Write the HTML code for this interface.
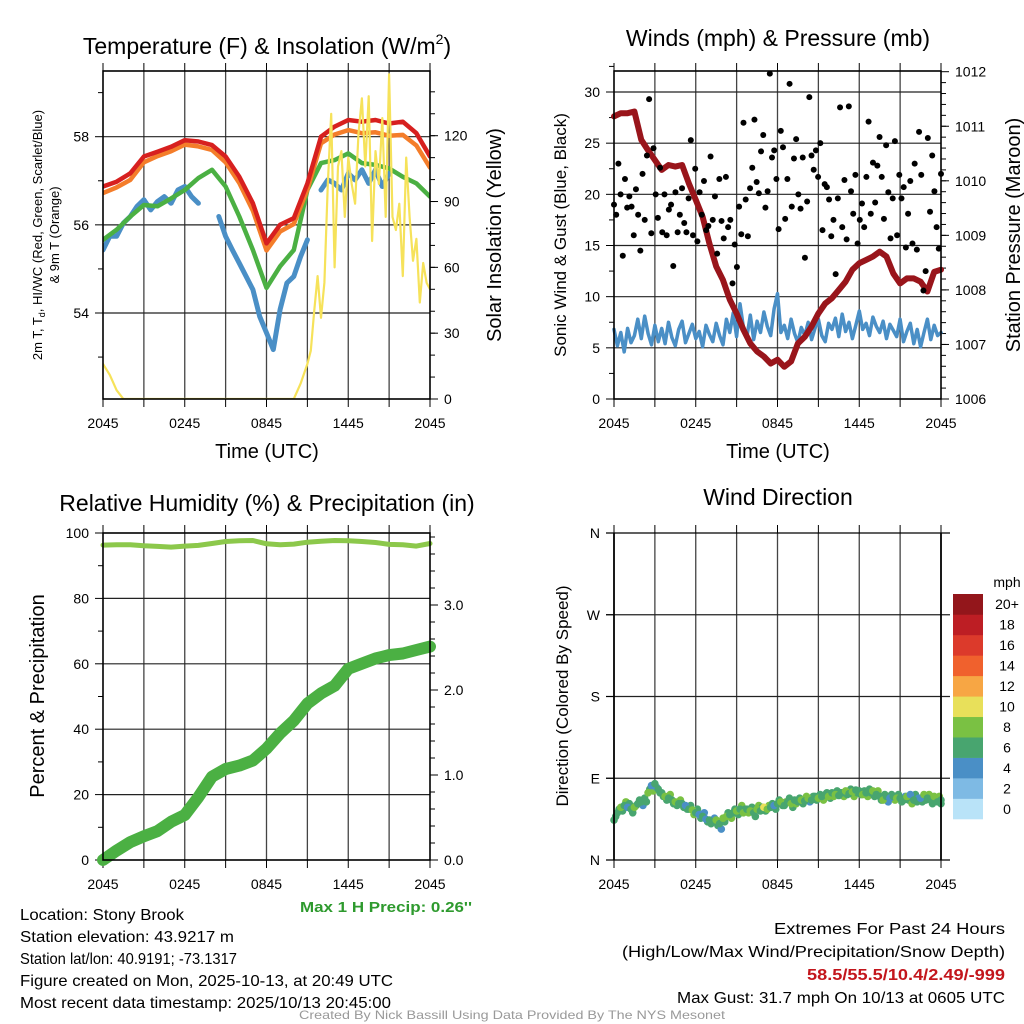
<!DOCTYPE html>
<html><head><meta charset="utf-8"><style>
html,body{margin:0;padding:0;background:#fff;}
svg{display:block;font-family:"Liberation Sans",sans-serif;}
</style></head><body>
<svg id="fig" xmlns="http://www.w3.org/2000/svg" width="1024" height="1024" viewBox="0 0 1024 1024">
<rect width="1024" height="1024" fill="#fff"/>
<g id="p1"></g>
<g id="p2"></g>
<g id="p3"></g>
<g id="p4"></g>

<text x="267" y="54" font-size="23" text-anchor="middle">Temperature (F) &amp; Insolation (W/m<tspan font-size="14" dy="-10">2</tspan><tspan dy="10">)</tspan></text>
<text x="778" y="46" font-size="23" text-anchor="middle">Winds (mph) &amp; Pressure (mb)</text>
<text x="267" y="511" font-size="23" text-anchor="middle">Relative Humidity (%) &amp; Precipitation (in)</text>
<text x="778" y="505" font-size="23" text-anchor="middle">Wind Direction</text>

<text x="267" y="458" font-size="20" text-anchor="middle">Time (UTC)</text>
<text x="778" y="458" font-size="20" text-anchor="middle">Time (UTC)</text>

<text transform="translate(42,235) rotate(-90)" font-size="13" text-anchor="middle">2m T, T<tspan font-size="9" dy="3">d</tspan><tspan dy="-3">, HI/WC (Red, Green, Scarlet/Blue)</tspan></text>
<text transform="translate(59,235) rotate(-90)" font-size="13" text-anchor="middle">&amp; 9m T (Orange)</text>
<text transform="translate(501,235) rotate(-90)" font-size="20" text-anchor="middle">Solar Insolation (Yellow)</text>
<text transform="translate(566,235) rotate(-90)" font-size="17" text-anchor="middle">Sonic Wind &amp; Gust (Blue, Black)</text>
<text transform="translate(1020,235) rotate(-90)" font-size="20" text-anchor="middle">Station Pressure (Maroon)</text>
<text transform="translate(44,696) rotate(-90)" font-size="20" text-anchor="middle">Percent &amp; Precipitation</text>
<text transform="translate(568,696) rotate(-90)" font-size="17" text-anchor="middle">Direction (Colored By Speed)</text>

<text x="472" y="912" font-size="15" font-weight="bold" fill="#2e9a2e" text-anchor="end" textLength="172" lengthAdjust="spacingAndGlyphs">Max 1 H Precip: 0.26''</text>

<g font-size="16">
<text x="20" y="920" textLength="164" lengthAdjust="spacingAndGlyphs">Location: Stony Brook</text>
<text x="20" y="942" textLength="214" lengthAdjust="spacingAndGlyphs">Station elevation: 43.9217 m</text>
<text x="20" y="964" textLength="217" lengthAdjust="spacingAndGlyphs">Station lat/lon: 40.9191; -73.1317</text>
<text x="20" y="986" textLength="373" lengthAdjust="spacingAndGlyphs">Figure created on Mon, 2025-10-13, at 20:49 UTC</text>
<text x="20" y="1008" textLength="371" lengthAdjust="spacingAndGlyphs">Most recent data timestamp: 2025/10/13 20:45:00</text>
</g>
<g font-size="16" text-anchor="end">
<text x="1005" y="934" textLength="231" lengthAdjust="spacingAndGlyphs">Extremes For Past 24 Hours</text>
<text x="1005" y="957" textLength="383" lengthAdjust="spacingAndGlyphs">(High/Low/Max Wind/Precipitation/Snow Depth)</text>
<text x="1005" y="980" textLength="198" lengthAdjust="spacingAndGlyphs" fill="#c3161c" font-weight="bold">58.5/55.5/10.4/2.49/-999</text>
<text x="1005" y="1003" textLength="328" lengthAdjust="spacingAndGlyphs">Max Gust: 31.7 mph On 10/13 at 0605 UTC</text>
</g>
<text x="512" y="1019" font-size="12" fill="#999" text-anchor="middle" textLength="426" lengthAdjust="spacingAndGlyphs">Created By Nick Bassill Using Data Provided By The NYS Mesonet</text>
</svg>
<script>
// ---------- data ----------
const xTickLabels = ["2045","0245","0845","1445","2045"];
const hourly = [0,1,2,3,4,5,6,7,8,9,10,11,12,13,14,15,16,17,18,19,20,21,22,23,24];
const tempRed = [56.87,56.98,57.17,57.55,57.66,57.77,57.92,57.89,57.81,57.55,57.09,56.49,55.58,56.0,56.15,56.94,58.0,58.23,58.38,58.34,58.38,58.3,58.34,58.08,57.55];
const tempOrange = [56.72,56.85,57.02,57.42,57.56,57.67,57.82,57.78,57.7,57.42,56.95,56.32,55.42,55.85,56.02,56.8,57.85,58.05,58.15,58.08,58.1,58.02,58.04,57.8,57.3];
const tempGreen = [55.66,55.89,56.19,56.45,56.42,56.6,56.79,57.06,57.25,56.87,56.19,55.43,54.57,55.06,55.43,56.79,57.4,57.47,57.62,57.4,57.36,57.28,57.09,56.94,56.64];
const halfHourly = [0,0.5,1,1.5,2,2.5,3,3.5,4,4.5,5,5.5,6,6.5,7,7.5,8,8.5,9,9.5,10,10.5,11,11.5,12,12.5,13,13.5,14,14.5,15,15.5,16,16.5,17,17.5,18,18.5,19,19.5,20,20.5,21,21.5,22,22.5,23,23.5,24];
const tempBlue = [55.43,55.74,55.74,56.04,56.19,56.42,56.57,56.34,56.53,56.64,56.49,56.79,56.87,56.64,56.49,null,null,56.19,55.74,55.43,55.13,54.83,54.53,53.92,53.55,53.17,54.08,54.68,54.83,55.28,55.66,null,56.79,57.02,56.94,56.79,57.17,57.02,57.25,56.94,57.25,56.87,57.17,null,null,null,null,null,56.26];
const solarTimes = [0,0.5,1,1.5,2,4,8,12,14,14.5,15,15.25,15.5,15.75,16,16.25,16.5,16.75,17,17.25,17.5,17.75,18,18.25,18.5,18.75,19,19.25,19.5,19.75,20,20.25,20.5,20.75,21,21.25,21.5,21.75,22,22.25,22.5,22.75,23,23.25,23.5,23.75,24];
const solarValues = [16,11,4,0,0,0,0,0,0,7,16,22,40,56,37,53,98,130,60,106,113,83,110,98,89,121,137,106,138,72,113,98,128,83,148,83,77,89,56,110,83,63,73,44,62,53,50];
const pressure = [1011.18,1011.24,1011.24,1011.27,1010.75,1010.56,1010.38,1010.2,1010.29,1010.26,1010.29,1009.95,1009.65,1009.34,1008.85,1008.43,1008.18,1007.82,1007.57,1007.27,1007.02,1006.87,1006.78,1006.65,1006.72,1006.59,1006.69,1007.02,1007.14,1007.33,1007.57,1007.75,1007.85,1008.0,1008.15,1008.37,1008.49,1008.55,1008.61,1008.7,1008.61,1008.3,1008.12,1008.21,1008.21,1008.15,1007.97,1008.33,1008.37];
const sonicWind = [6.8,5.2,6.5,4.6,6.9,5.5,6.2,7.8,5.9,8.1,6.4,5.3,
7.2,5.6,6.9,5.4,7.5,6.0,5.2,6.8,7.6,5.5,6.4,7.3,
5.9,6.6,5.1,7.2,6.3,5.6,7.4,6.2,5.3,7.8,6.5,8.4,
6.1,9.3,7.0,6.0,8.2,5.8,7.6,6.5,8.5,7.1,6.2,8.8,
10.3,6.5,7.2,5.9,7.8,6.4,5.5,7.0,6.2,7.5,5.8,6.9,
7.8,6.2,5.6,7.4,6.8,7.9,6.1,8.3,6.6,7.5,5.9,7.2,
8.6,6.8,7.4,6.2,8.0,7.1,6.5,7.6,5.9,7.3,6.7,6.1,
7.8,5.6,6.6,7.4,5.4,6.8,5.1,6.5,7.8,5.8,7.2,6.2,6.5];
const gusts = [19,18,23,20,14,21.5,18.7,19.8,18.8,16,20.5,18,
14.5,22,17.5,23.8,29.3,16.2,24.5,20,17.7,22.6,16.3,20,
16,18.5,19,13,20.2,16.3,18,20.6,17.2,16.3,19.6,25.3,
16,22.5,15.4,20.2,18,21.3,16.5,16.9,23.7,17.5,19.8,14.2,
21.5,17.4,15.7,21.7,16.8,17.5,11.3,15.1,12.9,18.8,16.1,27,
19.5,15.9,20.6,22.6,27.3,21.2,20.1,24.2,25.8,18.7,20.3,31.8,
23.6,24.3,21.5,16.6,26.2,24.6,17.6,21.5,30.8,18.8,23.5,25.4,
20,18.6,23.6,13.8,19.3,29.5,23.8,22.4,24.3,21.7,25,16.5,
21,20.7,19.5,15.9,17.5,12.2,19.6,28.5,16.8,21.4,15.6,28.6,
20.3,18.1,21.9,15.2,17.5,19.1,16.8,21.7,27.1,18.1,23.1,19.2,
22.8,25.6,21.7,17.6,24.8,20.2,15.7,19.6,25.2,16,21.9,19.6,
20.7,14.8,18.1,21.3,15.2,23,14.6,26.1,21.9,10.6,12.5,25.5,
18.3,23.8,20.3,16.8,14.7,22];
const humidity = [96.3,96.4,96.4,96.1,95.9,95.7,96.0,96.2,96.8,97.4,97.6,97.7,96.7,96.4,96.6,97.2,97.5,97.7,97.6,97.4,97.1,96.5,96.4,96.0,96.8];
const precip = [0,0.11,0.21,0.28,0.34,0.45,0.53,0.74,0.98,1.07,1.11,1.17,1.31,1.49,1.64,1.84,1.96,2.05,2.25,2.31,2.37,2.41,2.43,2.47,2.51];
const windDir = [44,52,58,60,58,56,58,62,64,68,74,82,
84,78,74,70,68,66,64,62,62,60,56,55,
52,50,48,45,44,42,44,40,46,48,50,52,
54,56,52,56,54,52,56,54,58,56,58,60,
62,64,60,64,62,66,64,66,65,68,66,70,
68,70,72,70,74,72,71,74,76,73,75,77,
76,72,74,78,76,72,70,66,70,68,70,68,
68,66,70,72,66,64,68,72,68,66,70,64,66];
const dirSpeed = [7.1,6.5,8.2,6.8,5.4,7.3,8.5,6.9,7.2,6.4,8.8,5.6,
7.0,6.2,7.5,8.3,6.6,7.1,8.4,6.7,6.9,5.5,7.4,8.1,
6.3,5.2,7.0,5.8,6.5,7.7,8.6,6.4,8.9,8.2,6.6,7.4,
8.5,6.8,8.7,6.3,8.4,7.9,8.8,6.5,11.2,8.6,7.2,5.1,
6.8,8.3,7.1,6.6,8.7,7.5,6.4,8.1,7.0,8.9,6.2,7.6,
8.4,6.9,7.3,8.8,6.5,8.2,7.4,6.8,8.6,7.1,8.3,6.7,
7.2,8.5,6.4,7.7,8.9,7.0,6.6,8.2,7.5,5.6,6.9,8.4,
7.1,6.3,8.6,5.5,7.2,6.8,5.4,8.1,6.6,7.3,8.5,6.4,7.0];
const windDir2 = [48,56,54,64,62,52,60,66,60,64,78,76,
80,74,70,66,72,62,60,66,58,56,60,50,
56,46,52,42,40,46,38,34,42,52,46,56,
50,60,56,52,58,48,60,58,54,60,62,56,
66,60,64,68,58,62,68,62,70,64,70,66,
72,66,74,68,70,76,74,70,72,78,70,74,
72,76,70,74,70,76,66,72,64,72,66,72,
64,70,66,62,72,68,64,66,72,62,68,70,62];
const dirSpeed2 = [6.6,7.4,6.2,8.1,7.0,6.5,7.8,6.3,5.7,7.2,6.8,8.4,
5.3,7.6,6.9,7.1,8.2,6.4,7.3,8.5,6.7,7.9,6.1,8.3,
7.2,6.6,5.4,7.5,6.8,5.6,7.1,4.8,6.5,7.7,8.1,6.9,
7.4,8.6,6.2,8.3,7.0,6.6,8.5,7.3,6.7,8.8,6.4,7.6,
6.9,7.5,8.4,6.3,7.2,8.6,6.8,7.4,8.2,5.8,7.1,6.5,
7.7,8.3,6.6,7.2,8.5,6.4,7.8,8.1,6.9,7.3,8.6,7.0,
6.8,7.6,8.2,6.5,7.3,8.4,6.7,7.9,5.5,7.2,8.1,6.6,
7.4,5.6,6.9,8.3,7.1,5.3,6.7,7.8,8.2,6.5,7.0,8.4,6.9];
const speedBins = ["0","2","4","6","8","10","12","14","16","18","20+"];
const speedColors = ["#b9e3f8","#7ebae4","#4a8fc6","#48a56f","#7ac143","#e8e05a","#f7a644","#f0612d","#dc3a2b","#bd1e24","#93161b"];
const dirLabels = ["N","E","S","W","N"];

// ---------- helpers ----------
const NS="http://www.w3.org/2000/svg";
function mk(parent,tag,attrs){const e=document.createElementNS(NS,tag);for(const k in attrs)e.setAttribute(k,attrs[k]);parent.appendChild(e);return e;}
function lin(d0,d1,r0,r1){return v=>r0+(v-d0)/(d1-d0)*(r1-r0);}
function fmt(v,d){return v.toFixed(d);}

function frame(g,P,yL,yR,opts){
  const X=lin(0,24,P.x0,P.x1);
  for(let h=0;h<=24;h+=3){
    const x=X(h);
    if(h>0&&h<24){const gl=mk(g,'line',{x1:x,y1:P.y0,x2:x,y2:P.y1,stroke:'#444','stroke-width':1.3});
      }
    mk(g,'line',{x1:x,y1:P.y1,x2:x,y2:P.y1+8,stroke:'#000','stroke-width':1});
    mk(g,'line',{x1:x,y1:P.y0,x2:x,y2:P.y0-8,stroke:'#000','stroke-width':1});
  }
  xTickLabels.forEach((l,i)=>{const t=mk(g,'text',{x:X(i*6),y:P.y1+29,'font-size':14,'text-anchor':'middle'});t.textContent=l;
    });
  (opts.grid||[]).forEach(v=>{const y=yL.s(v);const gl=mk(g,'line',{x1:opts.gx0||P.x0,y1:y,x2:opts.gx1||P.x1,y2:y,stroke:'#222','stroke-width':1.2});
    });
  yL.major.forEach(v=>{const y=yL.s(v);mk(g,'line',{x1:P.x0-8,y1:y,x2:P.x0,y2:y,stroke:'#000'});
    const t=mk(g,'text',{x:P.x0-14,y:y+5,'font-size':14,'text-anchor':'end'});t.textContent=yL.lab?yL.lab(v):fmt(v,yL.d||0);
    });
  (yL.minor||[]).forEach(v=>{const y=yL.s(v);mk(g,'line',{x1:P.x0-5,y1:y,x2:P.x0,y2:y,stroke:'#000'});});
  if(yR){
    yR.major.forEach(v=>{const y=yR.s(v);mk(g,'line',{x1:P.x1,y1:y,x2:P.x1+8,y2:y,stroke:'#000'});
      const t=mk(g,'text',{x:P.x1+14,y:y+5,'font-size':14});t.textContent=fmt(v,yR.d||0);
      });
    (yR.minor||[]).forEach(v=>{const y=yR.s(v);mk(g,'line',{x1:P.x1,y1:y,x2:P.x1+5,y2:y,stroke:'#000'});});
  }
  return X;
}
function box(g,P){const r=mk(g,'rect',{x:P.x0,y:P.y0,width:P.x1-P.x0,height:P.y1-P.y0,fill:'none',stroke:'#000','stroke-width':1.6});
  }
function line(g,xs,ys,X,Y,color,w,name){
  let d='',pen=false;
  xs.forEach((t,i)=>{const v=ys[i];if(v===null||v===undefined){pen=false;return;}
    d+=(pen?'L':'M')+X(t).toFixed(1)+' '+Y(v).toFixed(1);pen=true;});
  const p=mk(g,'path',{d:d,fill:'none',stroke:color,'stroke-width':w,'stroke-linejoin':'round','stroke-linecap':'round'});
  
}
function range(a,b,s){const r=[];for(let v=a;v<=b+1e-9;v+=s)r.push(+v.toFixed(4));return r;}

// ---------- panel 1 ----------
(function(){
  const g=document.getElementById('p1');
  const P={x0:103,x1:430,y0:71,y1:399};
  const yT=lin(54,58,313,136.7), yS=lin(0,120,399,135.7);
  const X=frame(g,P,{s:yT,major:[54,56,58],minor:[53,55,57,59]},{s:yS,major:[0,30,60,90,120],minor:range(10,140,10)},{grid:[54,56,58]});
  const clip=mk(g,'clipPath',{id:'c1'});mk(clip,'rect',{x:P.x0,y:P.y0,width:P.x1-P.x0,height:P.y1-P.y0});
  const inner=mk(g,'g',{'clip-path':'url(#c1)'});
  line(inner,halfHourly,tempBlue,X,yT,'#4a8fc6',5,'heat-index-line');
  line(inner,hourly,tempGreen,X,yT,'#4bb043',4.5,'dewpoint-line');
  line(inner,hourly,tempOrange,X,yT,'#f47d2a',4.5,'temp-9m-line');
  line(inner,hourly,tempRed,X,yT,'#d7201f',4.5,'temp-2m-line');
  line(inner,solarTimes,solarValues,X,yS,'#f6e25a',2.2,'insolation-line');
  box(g,P);
})();

// ---------- panel 2 ----------
(function(){
  const g=document.getElementById('p2');
  const P={x0:614,x1:941,y0:71,y1:399};
  const yW=lin(0,30,399,92), yP=lin(1006,1012,399,71.7);
  const X=frame(g,P,{s:yW,major:[0,5,10,15,20,25,30],minor:range(2.5,32.5,5)},{s:yP,major:[1006,1007,1008,1009,1010,1011,1012],minor:range(1006.2,1011.8,0.2)},{grid:[5,10,15,20,25,30]});
  const n=sonicWind.length;
  line(g,sonicWind.map((v,i)=>i*24/(n-1)),sonicWind,X,yW,'#4a8fc6',3.5,'sonic-wind-line');
  line(g,halfHourly,pressure,X,yP,'#99151b',6,'pressure-line');
  const m=gusts.length;
  gusts.forEach((v,i)=>{const c=mk(g,'circle',{cx:X(i*24/(m-1)),cy:yW(v),r:3,fill:'#000'});
    });
  box(g,P);
})();

// ---------- panel 3 ----------
(function(){
  const g=document.getElementById('p3');
  const P={x0:103,x1:430,y0:533,y1:860};
  const yH=lin(0,100,860,533), yR=lin(0,1,860,775);
  const X=frame(g,P,{s:yH,major:[0,20,40,60,80,100],minor:range(10,90,20)},{s:yR,major:[0,1,2,3],minor:range(0.2,3.8,0.2),d:1},{grid:[20,40,60,80]});
  line(g,hourly,humidity,X,yH,'#8cc84b',5,'humidity-line');
  line(g,hourly,precip,X,yR,'#4bb043',12,'precip-line');
  box(g,P);
})();

// ---------- panel 4 ----------
(function(){
  const g=document.getElementById('p4');
  const P={x0:614,x1:941,y0:533,y1:860};
  const yD=lin(0,360,860,533);
  const X=frame(g,P,{s:yD,major:[0,90,180,270,360],lab:v=>dirLabels[v/90]},null,{grid:[90,180,270],gx0:606,gx1:950});
  [533,860].forEach(y=>mk(g,'line',{x1:606,y1:y,x2:950,y2:y,stroke:'#000','stroke-width':1.3}));
  function dots(dirs,speeds,offset){
    const n=dirs.length;
    dirs.forEach((v,i)=>{
      const s=speeds[i];const bi=Math.min(10,Math.floor(s/2));
      const t=Math.min(24,i*24/(n-1)+offset);
      const c=mk(g,'circle',{cx:X(t),cy:yD(v),r:3.8,fill:speedColors[bi]});
      
      
    });
  }
  dots(windDir2,dirSpeed2,0.125);
  dots(windDir,dirSpeed,0);
  mk(g,'line',{x1:P.x0,y1:P.y0,x2:P.x0,y2:P.y1,stroke:'#000','stroke-width':1.8});
  mk(g,'line',{x1:P.x1,y1:P.y0,x2:P.x1,y2:P.y1,stroke:'#000','stroke-width':1.8});
  const cb=mk(g,'g',{});
  
  const bh=225/11;
  for(let i=0;i<11;i++){
    const y=594+(10-i)*bh;
    mk(cb,'rect',{x:953,y:y,width:30,height:bh+0.3,fill:speedColors[i]});
    const t=mk(cb,'text',{x:1007,y:y+bh/2+5,'font-size':14,'text-anchor':'middle'});t.textContent=speedBins[i];
    
  }
  const u=mk(cb,'text',{x:1007,y:587,'font-size':14,'text-anchor':'middle'});u.textContent='mph';
})();
</script>
</body></html>
